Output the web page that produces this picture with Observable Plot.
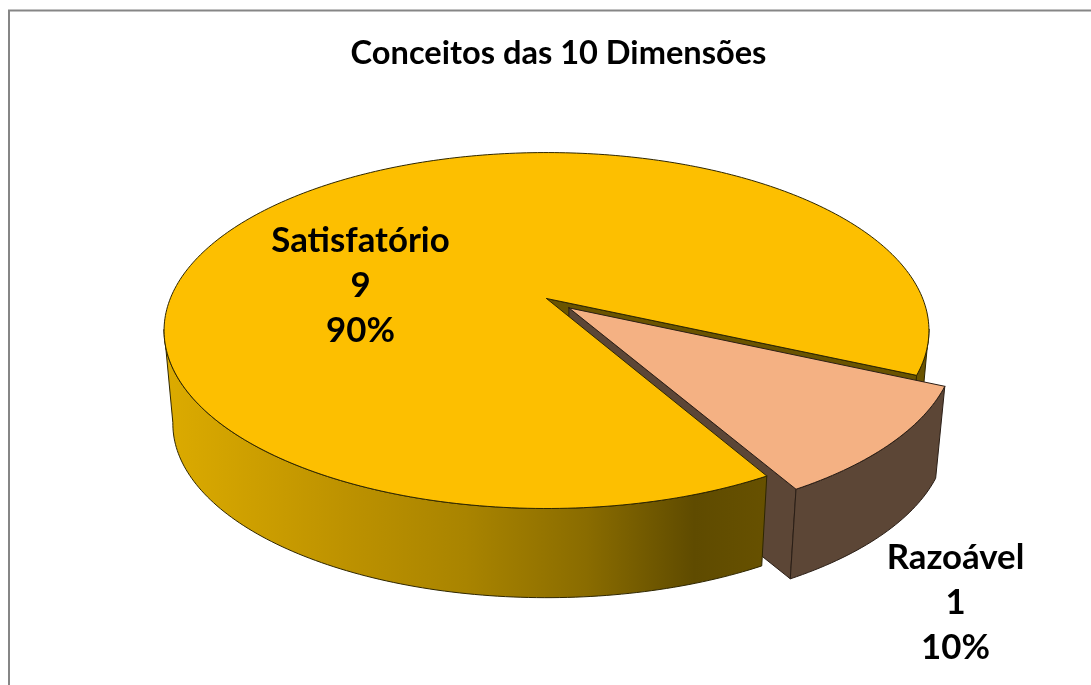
<!DOCTYPE html>
<html>
<head>
<meta charset="utf-8">
<script src="https://cdn.jsdelivr.net/npm/d3@7"></script>
<script src="https://cdn.jsdelivr.net/npm/@observablehq/plot@0.6"></script>
<style>html,body{margin:0;padding:0;background:#fff}svg{display:block;filter:blur(0.45px)}</style>
</head>
<body>
<div id="chart"></div>
<script>
const titleText = "Conceitos das 10 Dimensões";
const categories = ["Satisfatório", "Razoável"];
const counts = [9, 1];

const W = 1091, H = 685;
const total = d3.sum(counts);
const shares = counts.map(c => c / total);
const pctLabels = shares.map(s => `${Math.round(s * 100)}%`);
const labelAnchors = [{x: 360, y: 282}, {x: 955, y: 599}];

// perspective pie: ground coordinates (u,v) on a unit circle -> page units
const apex = {x: 546, y: 298};
const R = 376.2, S = 172.2, k = 0.18;
const depthY = 94, depthScale = 0.977;
const startDeg = 24.4;                     // where the small slice begins
const sweepSmall = 360 * shares[1];
const a0 = startDeg, a1 = startDeg + sweepSmall;
const midRad = (a0 + a1) / 2 * Math.PI / 180;
const explode = 0.08;
const off = {u: explode * Math.cos(midRad), v: explode * Math.sin(midRad)};

function project(u, v, low = false) {
  const w = 1 - k * v, s = low ? depthScale : 1;
  return {
    x: apex.x + s * R * u / w,
    y: apex.y + (low ? depthY : 0) + s * S * v / w
  };
}
const rim = (deg, o = {u: 0, v: 0}, low = false) => {
  const r = deg * Math.PI / 180;
  return project(o.u + Math.cos(r), o.v + Math.sin(r), low);
};
const arc = (from, to, o, low) => {
  const n = Math.max(2, Math.ceil(Math.abs(to - from)));
  return d3.range(n + 1).map(i => rim(from + (to - from) * i / n, o, low));
};
const close = pts => [...pts, pts[0]];
const centre = (o = {u: 0, v: 0}, low = false) => project(o.u, o.v, low);
const none = {u: 0, v: 0};

// surfaces
const mainTop = close([centre(), ...arc(a1, a0 + 360, none, false)]);
const mainFront = close([...arc(a1, 170, none, false), ...arc(170, a1, none, true)]);
const mainRight = close([...arc(10, a0, none, false), ...arc(a0, 10, none, true)]);
const mainCut = close([centre(), rim(a0), rim(a0, none, true), centre(none, true)]);
const sliceTop = close([centre(off), ...arc(a0, a1, off, false)]);
const sliceOuter = close([...arc(a0, a1, off, false), ...arc(a1, a0, off, true)]);
const sliceCut = close([centre(off), rim(a1, off), rim(a1, off, true), centre(off, true)]);

const gold = "#fdbf00", peach = "#f4b183", brown = "#5c4636", olive = "#6a5400";
const edge = "#2e2600", edgeB = "#2a1e16";
const wallStops = [
  [0, "#dcab00"], [0.1, "#d2a300"], [0.3, "#bd9200"], [0.5, "#a98400"],
  [0.7, "#8a6c00"], [0.88, "#5f4b00"], [1, "#675100"]
];

const gradient = () => {
  const ns = "http://www.w3.org/2000/svg";
  const defs = document.createElementNS(ns, "defs");
  const g = document.createElementNS(ns, "linearGradient");
  g.setAttribute("id", "wallGold");
  for (const [o, c] of wallStops) {
    const s = document.createElementNS(ns, "stop");
    s.setAttribute("offset", o);
    s.setAttribute("stop-color", c);
    g.appendChild(s);
  }
  defs.appendChild(g);
  return defs;
};

const face = (pts, fill, stroke = edge) =>
  Plot.line(pts, {x: "x", y: "y", fill, stroke, strokeWidth: 1, strokeLinejoin: "round"});

const labels = categories.map((c, i) => ({
  x: labelAnchors[i].x, y: labelAnchors[i].y,
  text: `${c}\n${counts[i]}\n${pctLabels[i]}`
}));

const chart = Plot.plot({
  width: W, height: H,
  margin: 0,
  x: {domain: [0, W], range: [0, W], axis: null},
  y: {domain: [0, H], range: [0, H], axis: null},
  style: {background: "#fff"},
  marks: [
    gradient,
    Plot.ruleX([8.5], {y1: 10, y2: H, stroke: "#868686", strokeWidth: 2}),
    Plot.ruleY([10], {x1: 8, x2: W, stroke: "#868686", strokeWidth: 2}),
    face(mainRight, olive),
    face(mainCut, olive),
    face(sliceCut, brown, edgeB),
    face(sliceOuter, brown, edgeB),
    face(sliceTop, peach, edgeB),
    face(mainFront, "url(#wallGold)"),
    face(mainTop, gold),
    Plot.text([titleText], {
      x: () => 558, y: () => 53, text: d => d,
      fontFamily: "Lato", fontWeight: 700, fontSize: 32.6, fill: "#000"
    }),
    Plot.text(labels, {
      x: "x", y: "y", text: "text", lineHeight: 1.3,
      fontFamily: "Lato", fontWeight: 700, fontSize: 34.8, fill: "#000"
    })
  ]
});
document.getElementById("chart").appendChild(chart);
</script>
</body>
</html>
